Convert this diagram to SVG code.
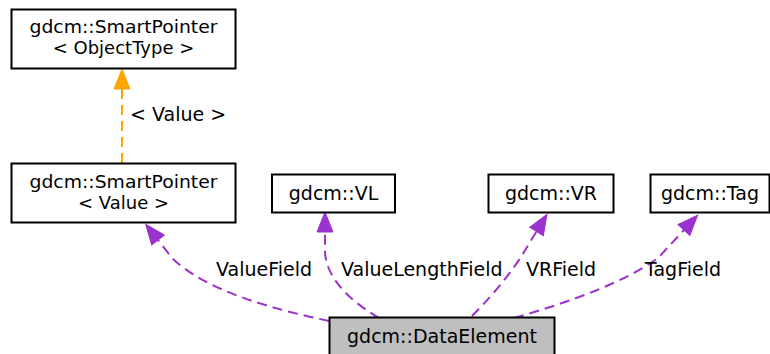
<svg xmlns="http://www.w3.org/2000/svg" width="770" height="354" viewBox="0 0 770 354">
<style>
  .box { fill: #ffffff; stroke: #000000; stroke-width: 2; }
  .hl { fill: #bfbfbf; stroke: #000000; stroke-width: 2; }
  text { font-family: "DejaVu Sans", Verdana, sans-serif; font-size: 19px; fill: #000000; }
  .c { text-anchor: middle; }
  .t2 { font-size: 18px; }
  .e { fill: none; stroke-width: 2; stroke-dasharray: 10,6; }
  .p { stroke: #9a32cd; }
  .o { stroke: #ffa500; }
</style>
<defs>
  <marker id="ap" markerUnits="userSpaceOnUse" markerWidth="22" markerHeight="18" viewBox="0 -9 22 18" refX="0" refY="0" orient="auto" overflow="visible">
    <path d="M0,-8 L20,0 L0,8 z" fill="#9a32cd" stroke="#9a32cd" stroke-width="1"/>
  </marker>
  <marker id="ao" markerUnits="userSpaceOnUse" markerWidth="22" markerHeight="18" viewBox="0 -9 22 18" refX="0" refY="0" orient="auto" overflow="visible">
    <path d="M0,-8 L20,0 L0,8 z" fill="#ffa500" stroke="#ffa500" stroke-width="1"/>
  </marker>
</defs>
<rect width="770" height="354" fill="#ffffff"/>
<g id="edges">
  <path class="e o" d="M122,163 L122,89" marker-end="url(#ao)"/>
  <text x="130" y="121">&lt; Value &gt;</text>
  <path class="e p" d="M329,321 C268,308 205,290 172,258 L158,240" marker-end="url(#ap)"/>
  <text x="216" y="276">ValueField</text>
  <path class="e p" d="M379,318 C345,298 326,275 325,252 L325,232" marker-end="url(#ap)"/>
  <text x="341" y="276">ValueLengthField</text>
  <path class="e p" d="M472,316 C495,293 515,268 527,247 L536.5,231.5" marker-end="url(#ap)"/>
  <text x="526" y="276">VRField</text>
  <path class="e p" d="M514,318 C570,302 625,282 658,258 L684,230" marker-end="url(#ap)"/>
  <text x="645" y="276">TagField</text>
</g>
<g id="node_SmartPointerObjectType">
  <rect class="box" x="11.5" y="9.5" width="224" height="59"/>
  <text class="c t2" x="123.5" y="32.5" textLength="188" lengthAdjust="spacingAndGlyphs">gdcm::SmartPointer</text>
  <text class="c t2" x="123.5" y="54">&lt; ObjectType &gt;</text>
</g>
<g id="node_SmartPointerValue">
  <rect class="box" x="11.5" y="163.5" width="224" height="59"/>
  <text class="c t2" x="123.5" y="187.5" textLength="188" lengthAdjust="spacingAndGlyphs">gdcm::SmartPointer</text>
  <text class="c t2" x="123.5" y="209">&lt; Value &gt;</text>
</g>
<g id="node_VL">
  <rect class="box" x="272" y="174.5" width="123" height="38"/>
  <text class="c" x="333.5" y="200">gdcm::VL</text>
</g>
<g id="node_VR">
  <rect class="box" x="488.5" y="174.5" width="125" height="38"/>
  <text class="c" x="551" y="200">gdcm::VR</text>
</g>
<g id="node_Tag">
  <rect class="box" x="650.5" y="174.5" width="119" height="38"/>
  <text class="c" x="710" y="200">gdcm::Tag</text>
</g>
<g id="node_DataElement">
  <rect class="hl" x="329.5" y="317.5" width="225" height="40"/>
  <text class="c" x="442" y="343">gdcm::DataElement</text>
</g>
</svg>
